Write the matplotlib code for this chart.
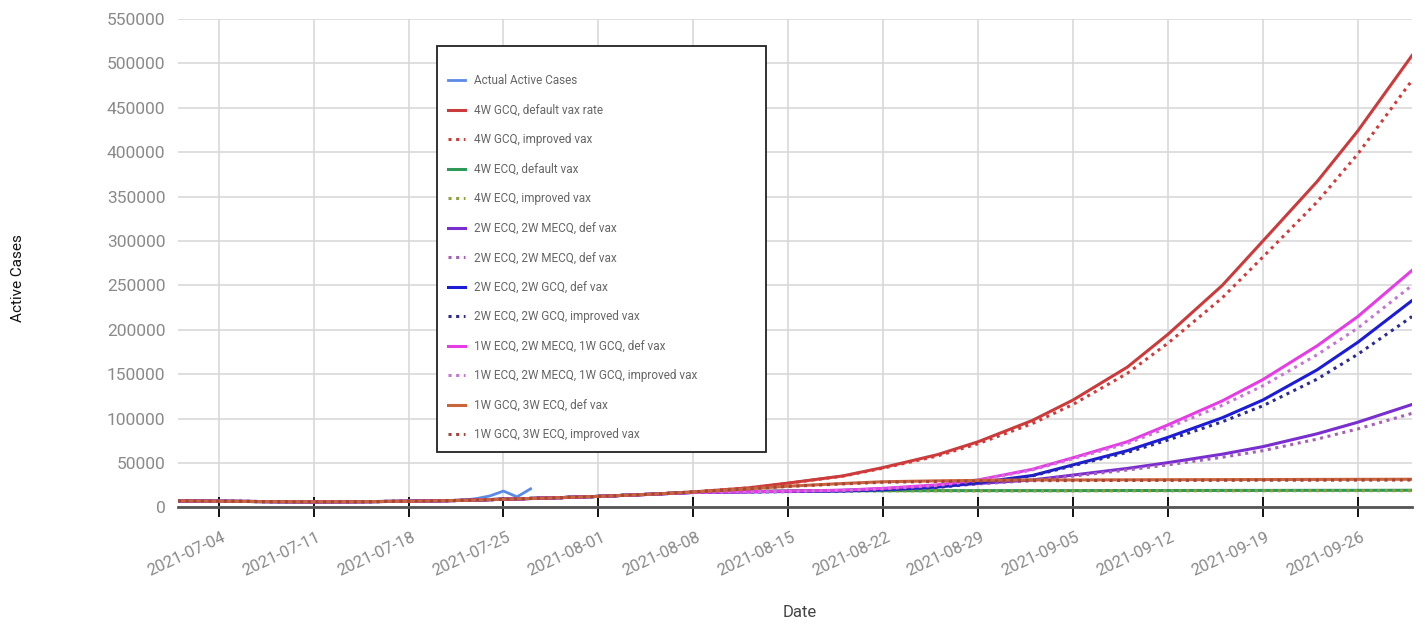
import pandas as pd
import matplotlib
matplotlib.use("Agg")
import matplotlib.pyplot as plt
import matplotlib.dates as mdates
import matplotlib.transforms as mtransforms

plt.rcParams['font.family'] = ['Roboto', 'DejaVu Sans']

# model output dates
dates = ['2021-07-01', '2021-07-04', '2021-07-08', '2021-07-11', '2021-07-15', '2021-07-18',
         '2021-07-22', '2021-07-25', '2021-07-29', '2021-08-01', '2021-08-05', '2021-08-08',
         '2021-08-12', '2021-08-15', '2021-08-19', '2021-08-22', '2021-08-26', '2021-08-29',
         '2021-09-02', '2021-09-05', '2021-09-09', '2021-09-12', '2021-09-16', '2021-09-19',
         '2021-09-23', '2021-09-26', '2021-09-30']

actual_dates = ['2021-07-01', '2021-07-04', '2021-07-08', '2021-07-11', '2021-07-15', '2021-07-18',
                '2021-07-22', '2021-07-23', '2021-07-24', '2021-07-25', '2021-07-26', '2021-07-27']
actual = [7200, 6800, 6400, 6200, 6400, 6900, 8200, 10000, 13000, 18500, 12000, 21000]

gcq4_def = [7500, 7000, 6600, 6400, 6600, 7000, 8000, 9300, 11000, 12500, 15000,
            17500, 22000, 27500, 35500, 45000, 59500, 74000, 98000, 121000, 158000,
            195000, 250000, 300000, 367000, 424000, 509000]
gcq4_imp = [7500, 7000, 6600, 6400, 6600, 7000, 8000, 9300, 11000, 12500, 15000,
            17500, 22000, 27300, 35200, 44300, 58000, 71800, 94500, 116000, 151000,
            185000, 236000, 282000, 344000, 398000, 481000]
ecq4_def = [7500, 7000, 6600, 6400, 6600, 7000, 8000, 9300, 11000, 12500, 15000,
            17000, 18200, 18600, 18800, 18900, 19000, 19000, 19000, 19000, 19100,
            19100, 19200, 19200, 19300, 19300, 19400]
ecq4_imp = [7500, 7000, 6600, 6400, 6600, 7000, 8000, 9300, 11000, 12500, 15000,
            17000, 18100, 18400, 18600, 18700, 18700, 18700, 18700, 18700, 18800,
            18800, 18800, 18800, 18900, 18900, 18900]
mecq_def = [7500, 7000, 6600, 6400, 6600, 7000, 8000, 9300, 11000, 12500, 15000,
            17000, 17800, 18300, 19300, 21000, 23500, 27000, 31000, 36500, 44000,
            50500, 60000, 68500, 83000, 96000, 116000]
mecq_imp = [7500, 7000, 6600, 6400, 6600, 7000, 8000, 9300, 11000, 12500, 15000,
            17000, 17700, 18100, 19000, 20600, 23000, 26500, 30300, 35300, 42200,
            48000, 56500, 64000, 77000, 88500, 106000]
gcq2_def = [7500, 7000, 6600, 6400, 6600, 7000, 8000, 9300, 11000, 12500, 15000,
            17000, 17600, 18000, 18600, 20000, 23000, 28000, 36000, 48000, 64000,
            79000, 101000, 121000, 155000, 186000, 233000]
gcq2_imp = [7500, 7000, 6600, 6400, 6600, 7000, 8000, 9300, 11000, 12500, 15000,
            17000, 17500, 17900, 18400, 19700, 22600, 27300, 35500, 47000, 62000,
            76000, 96500, 114500, 144500, 172500, 215000]
mix_def = [7500, 7000, 6600, 6400, 6600, 7000, 8000, 9300, 11000, 12500, 15000,
           17000, 17800, 18400, 19500, 21500, 25500, 31000, 43000, 56000, 74000,
           93000, 120000, 144000, 182000, 215000, 267000]
mix_imp = [7500, 7000, 6600, 6400, 6600, 7000, 8000, 9300, 11000, 12500, 15000,
           17000, 17700, 18200, 19200, 21000, 24800, 30300, 42300, 54800, 72000,
           89800, 115000, 137000, 172000, 202000, 250000]
ecq3_def = [7500, 7000, 6600, 6400, 6600, 7000, 8000, 9300, 11000, 12500, 15000,
            17500, 21000, 24000, 27000, 29000, 30000, 30500, 31000, 31000, 31200,
            31300, 31400, 31500, 31600, 31700, 31800]
ecq3_imp = [7500, 7000, 6600, 6400, 6600, 7000, 8000, 9300, 11000, 12500, 15000,
            17500, 20800, 23700, 26500, 28400, 29300, 29800, 30200, 30300, 30400,
            30500, 30600, 30700, 30700, 30800, 30900]

labels = ['4W GCQ, default vax rate', '4W GCQ, improved vax',
          '4W ECQ, default vax', '4W ECQ, improved vax',
          '2W ECQ, 2W MECQ, def vax', '2W ECQ, 2W MECQ, def vax',
          '2W ECQ, 2W GCQ, def vax', '2W ECQ, 2W GCQ, improved vax',
          '1W ECQ, 2W MECQ, 1W GCQ, def vax', '1W ECQ, 2W MECQ, 1W GCQ, improved vax',
          '1W GCQ, 3W ECQ, def vax', '1W GCQ, 3W ECQ, improved vax']
series = [gcq4_def, gcq4_imp, ecq4_def, ecq4_imp, mecq_def, mecq_imp,
          gcq2_def, gcq2_imp, mix_def, mix_imp, ecq3_def, ecq3_imp]
colors = ['#cc3b3b', '#d23a3a', '#2e9a5a', '#8aa23c', '#7a2ed0', '#a65fb8',
          '#1c1cd8', '#2a2a96', '#e63ce6', '#c774d6', '#c8653a', '#a8443c']

tick_dates = ['2021-07-04', '2021-07-11', '2021-07-18', '2021-07-25', '2021-08-01',
              '2021-08-08', '2021-08-15', '2021-08-22', '2021-08-29', '2021-09-05',
              '2021-09-12', '2021-09-19', '2021-09-26']
y_ticks = [0, 50000, 100000, 150000, 200000, 250000, 300000, 350000, 400000, 450000, 500000, 550000]

x = pd.to_datetime(dates)

fig = plt.figure(figsize=(14.25, 6.28), dpi=100)
ax = fig.add_axes([0.1249, 0.1919, 0.866, 0.7778])

ax.plot(pd.to_datetime(actual_dates), actual, color='#5b8ae6', lw=2.0, label='Actual Active Cases', zorder=3)
for i, (ys, lab, c) in enumerate(zip(series, labels, colors)):
    if i % 2 == 0:
        ax.plot(x, ys, color=c, lw=2.2, label=lab, zorder=3)
    else:
        ax.plot(x, ys, color=c, lw=2.2, linestyle=(0, (1, 1.5)), label=lab, zorder=3)

ax.set_xlim(pd.Timestamp('2021-07-01'), pd.Timestamp('2021-09-30'))
ax.set_ylim(0, 550000)
ax.set_yticks(y_ticks)
ax.set_yticklabels([str(v) for v in y_ticks])
ax.set_xticks(pd.to_datetime(tick_dates))
ax.xaxis.set_major_formatter(mdates.DateFormatter('%Y-%m-%d'))

ax.grid(True, color='#d6d6d6', lw=1.1)
ax.set_axisbelow(True)
for s in ['top', 'right', 'left']:
    ax.spines[s].set_visible(False)
ax.spines['bottom'].set_color('#555555')
ax.spines['bottom'].set_linewidth(2.0)
ax.spines['bottom'].set_zorder(4)

ax.tick_params(axis='y', length=0, pad=9, labelsize=12.5, labelcolor='#8a8a8a')
ax.tick_params(axis='x', direction='inout', length=14, width=1.4, color='#111111',
               pad=9, labelsize=12, labelcolor='#8a8a8a')
offset = mtransforms.ScaledTranslation(9 / 100, 0, fig.dpi_scale_trans)
for lbl in ax.get_xticklabels():
    lbl.set_rotation(25)
    lbl.set_ha('right')
    lbl.set_transform(lbl.get_transform() + offset)

ax.set_ylabel('Active Cases', fontsize=11, color='#111111')
ax.yaxis.set_label_coords(-0.124, 0.47)
ax.set_xlabel('Date', fontsize=12, color='#444444')
ax.xaxis.set_label_coords(0.504, -0.2)

# blank title just pushes the entries down a little, like the original box
leg = ax.legend(loc='upper left', bbox_to_anchor=(0.3067, 0.2866, 0.2309, 0.6402),
                bbox_transform=fig.transFigure, mode='expand', borderaxespad=0,
                fontsize=8.5, handlelength=1.45, handletextpad=0.8, labelspacing=1.4,
                borderpad=0.9, fancybox=False, framealpha=1,
                title=' ', title_fontsize=1)
leg.get_frame().set_edgecolor('#222222')
leg.get_frame().set_linewidth(1.3)
for t in leg.get_texts():
    t.set_color('#666666')

fig.savefig('out.png', dpi=100)
